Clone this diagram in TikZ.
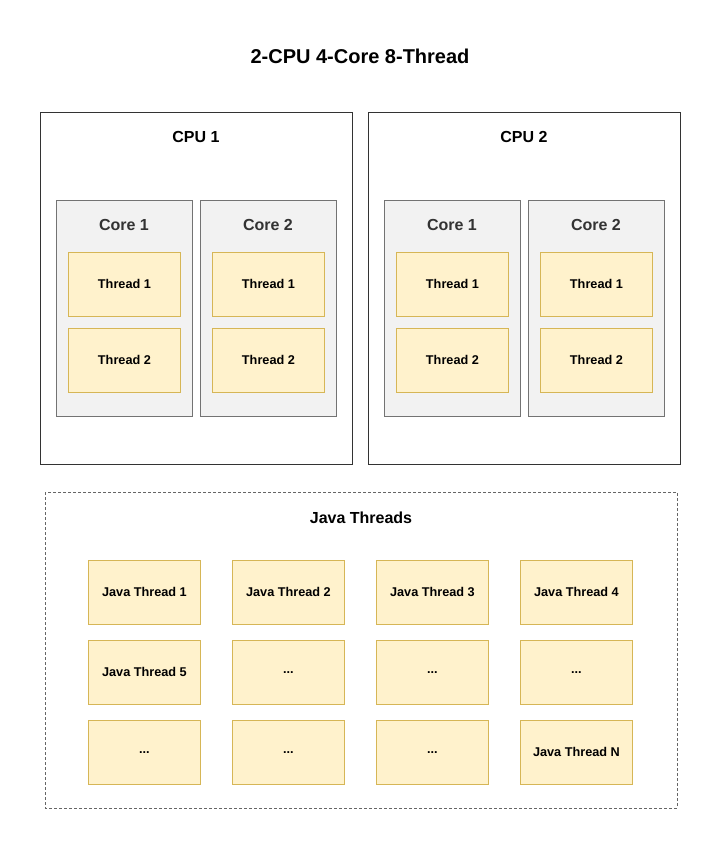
\documentclass[tikz,border=0pt]{standalone}
\usepackage{fontspec}
\setmainfont{Liberation Sans}
\begin{document}
\begin{tikzpicture}[x=1pt,y=-1pt,
  cpubox/.style={draw=black!80,line width=0.9pt,fill=white},
  corebox/.style={draw=black!55,line width=0.9pt,fill=black!5},
  thrbox/.style={draw={rgb,255:red,214;green,182;blue,86},line width=0.9pt,fill={rgb,255:red,255;green,242;blue,204}},
  lbl/.style={font=\bfseries\fontsize{12.7}{15}\selectfont,text=black},
  corelbl/.style={font=\bfseries\fontsize{16}{19}\selectfont,text=black!80},
  cpulbl/.style={font=\bfseries\fontsize{16}{19}\selectfont,text=black},
]
\useasboundingbox[fill=white] (0,0) rectangle (721,849);
\node[font=\bfseries\fontsize{20}{24}\selectfont] (title) at (360,56) {2-CPU 4-Core 8-Thread};
% CPUs
\foreach \c/\x in {1/40,2/368}{
  \draw[cpubox] (\x,112) rectangle ++(312,352);
  \node[cpulbl] (cpu\c) at (\x+156,137) {CPU \c};
  \foreach \k/\dx in {1/16,2/160}{
    \draw[corebox] (\x+\dx,200) rectangle ++(136,216);
    \node[corelbl] (core\c\k) at (\x+\dx+68,225) {Core \k};
    \foreach \t/\y in {1/252,2/328}{
      \node[thrbox,lbl,minimum width=112pt,minimum height=64pt,inner sep=0pt,anchor=north west] (t\c\k\t) at (\x+\dx+12,\y) {Thread \t};
    }
  }
}
% Java threads
\draw[draw=black!60,line width=0.9pt,dash pattern=on 3pt off 2pt] (45,492) rectangle (677,808);
\node[cpulbl] (jt) at (361,518) {Java Threads};
\tikzset{jbox/.style={thrbox,lbl,minimum width=112pt,minimum height=64pt,inner sep=0pt,anchor=north west}}
\node[jbox] (j1) at (88,560) {Java Thread 1};
\node[jbox] (j2) at (232,560) {Java Thread 2};
\node[jbox] (j3) at (376,560) {Java Thread 3};
\node[jbox] (j4) at (520,560) {Java Thread 4};
\node[jbox] (j5) at (88,640) {Java Thread 5};
\node[jbox] (j6) at (232,640) {...};
\node[jbox] (j7) at (376,640) {...};
\node[jbox] (j8) at (520,640) {...};
\node[jbox] (j9) at (88,720) {...};
\node[jbox] (j10) at (232,720) {...};
\node[jbox] (j11) at (376,720) {...};
\node[jbox] (j12) at (520,720) {Java Thread N};
\end{tikzpicture}
\end{document}
